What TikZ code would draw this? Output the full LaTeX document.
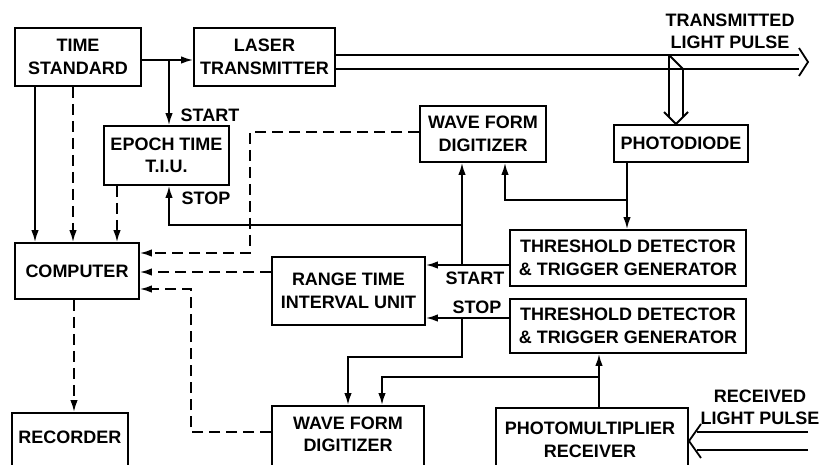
\documentclass[tikz,border=0pt]{standalone}
\usepackage{fontspec}
\setmainfont{Liberation Sans}
\usetikzlibrary{arrows.meta}
\newcommand\lblfont{\fontsize{18}{22.5}\selectfont\bfseries}
\tikzset{
  box/.style={draw, line width=1.8pt, align=center, inner sep=0pt, font=\lblfont},
  frm/.style={draw, line width=1.8pt, inner sep=0pt},
  lbl/.style={inner sep=0pt, align=center, font=\lblfont},
  arr/.style={-{Latex[length=12pt,width=7.5pt]}},
  dsh/.style={dash pattern=on 11pt off 6pt},
  ln/.style={line width=1.8pt, line join=miter},
}
\begin{document}
\begin{tikzpicture}[x=1pt,y=-1pt]
\useasboundingbox (0,0) rectangle (820,464);
\fill[white] (0,0) rectangle (820,464);
\clip (0,0) rectangle (820,464);

% boxes
\node[box, minimum width=126pt, minimum height=58pt] (ts) at (78,57) {TIME\\STANDARD};
\node[box, minimum width=141pt, minimum height=58pt] (lt) at (264.5,57) {LASER\\TRANSMITTER};
\node[box, minimum width=125pt, minimum height=59pt] (ep) at (166.5,155.5) {EPOCH TIME\\T.I.U.};
\node[box, minimum width=126pt, minimum height=56pt] (wf1) at (483,134) {WAVE FORM\\DIGITIZER};
\node[box, minimum width=134pt, minimum height=37pt] (pd) at (681,143.5) {PHOTODIODE};
\node[box, minimum width=124pt, minimum height=56pt] (comp) at (77,271) {COMPUTER};
\node[box, minimum width=236pt, minimum height=56pt] (td1) at (628,258) {THRESHOLD DETECTOR\\\& TRIGGER GENERATOR};
\node[box, minimum width=236pt, minimum height=54pt] (td2) at (628,326) {THRESHOLD DETECTOR\\\& TRIGGER GENERATOR};
\node[box, minimum width=153pt, minimum height=68pt] (rt) at (348.5,291) {RANGE TIME\\INTERVAL UNIT};

% bottom boxes (cut off by the lower edge)
\node[frm, minimum width=152pt, minimum height=80pt, anchor=north] (wf2) at (348,405) {};
\node[lbl] (wf2t) at (348,434.5) {WAVE FORM\\DIGITIZER};
\node[frm, minimum width=116pt, minimum height=80pt, anchor=north] (rec) at (70,412) {};
\node[lbl] (rect) at (70,437) {RECORDER};
\node[frm, minimum width=192pt, minimum height=80pt, anchor=north] (pmt) at (592,407) {};
\node[lbl] (pmtt) at (590,440) {PHOTOMULTIPLIER\\RECEIVER};

% labels
\node[lbl] (lstart1) at (210,115) {START};
\node[lbl] (lstop1) at (206,198) {STOP};
\node[lbl] (lstart2) at (475,278.5) {START};
\node[lbl] (lstop2) at (477,307) {STOP};
\node[lbl] (ltx) at (730,31.5) {TRANSMITTED\\LIGHT PULSE};
\node[lbl] (lrx) at (760,407.5) {RECEIVED\\LIGHT PULSE};

% helper coordinates
\coordinate (jA) at (169,60);
\coordinate (xa) at (35,0);
\coordinate (xb) at (73,0);
\coordinate (xc) at (117,0);
\coordinate (xd) at (74,0);
\coordinate (d1a) at (250,132);
\coordinate (d1) at (250,253);
\coordinate (d2) at (200,272);
\coordinate (d3a) at (191,432);
\coordinate (d3b) at (191,289);
\coordinate (s1) at (462,265);
\coordinate (s2) at (462,225);
\coordinate (p1) at (462,318);
\coordinate (p2) at (462,357);
\coordinate (p3) at (348,357);
\coordinate (m1) at (599,377);
\coordinate (m2) at (382,377);
\coordinate (q1) at (627,200);
\coordinate (q2) at (505,200);

\begin{scope}[ln]
% solid connectors
\draw[arr] (ts.east |- jA) -- (lt.west |- jA);
\draw[arr] (jA) -- (jA |- ep.north);
\draw[arr] (ts.south -| xa) -- (comp.north -| xa);
\draw[arr] (td1.west |- s1) -- (rt.east |- s1);
\draw[arr] (s1) -- (s1 |- wf1.south);
\draw[arr] (s2) -- (jA |- s2) -- (jA |- ep.south);
\draw[arr] (td2.west |- p1) -- (rt.east |- p1);
\draw[arr] (p1) -- (p2) -- (p3) -- (p3 |- wf2.north);
\draw[arr] (pmt.north -| m1) -- (m1 |- td2.south);
\draw[arr] (m1) -- (m2) -- (m2 |- wf2.north);
\draw[arr] (pd.south -| q1) -- (q1 |- td1.north);
\draw[arr] (q1) -- (q2) -- (q2 |- wf1.south);
% dashed connectors
\draw[arr,dsh] (ts.south -| xb) -- (comp.north -| xb);
\draw[arr,dsh] (ep.south -| xc) -- (comp.north -| xc);
\draw[arr,dsh] (comp.south -| xd) -- (rec.north -| xd);
\draw[arr,dsh] (wf1.west |- d1a) -- (d1a) -- (d1) -- (comp.east |- d1);
\draw[arr,dsh] (rt.west |- d2) -- (comp.east |- d2);
\draw[arr,dsh] (wf2.west |- d3a) -- (d3a) -- (d3b) -- (comp.east |- d3b);

% transmitted light pulse
\coordinate (bt) at (669,55);
\coordinate (bb) at (683,69);
\coordinate (tA) at (799,48);
\coordinate (tTip) at (808,62);
\coordinate (tB) at (799,76);
\draw (lt.east |- bt) -- (tA |- bt);
\draw (lt.east |- bb) -- (tA |- bb);
\draw (tA) -- (tTip) -- (tB);
% beam splitter to photodiode
\coordinate (vA) at (664,112);
\coordinate (vTip) at (676,124);
\coordinate (vB) at (688,112);
\draw (bt) -- (bb);
\draw (bt) -- (669,117);
\draw (bb) -- (683,117);
\draw (vA) -- (vTip) -- (vB);

% received light pulse
\coordinate (rA) at (701,424);
\coordinate (rTip) at (689,441);
\coordinate (rB) at (701,458);
\coordinate (r1) at (808,432);
\coordinate (r2) at (808,450);
\draw (r1) -- (697,432);
\draw (r2) -- (697,450);
\draw (rA) -- (rTip) -- (rB);
\end{scope}
\end{tikzpicture}
\end{document}
